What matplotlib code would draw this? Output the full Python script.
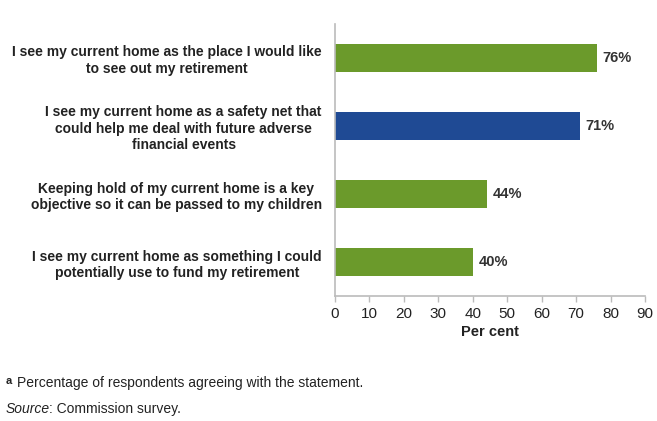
import matplotlib.pyplot as plt
import numpy as np

plt.rcParams['font.family'] = ['Liberation Sans', 'DejaVu Sans']

# data, top to bottom as in the chart
labels = ['I see my current home as the place I would like\nto see out my retirement',
          'I see my current home as a safety net that\ncould help me deal with future adverse\nfinancial events',
          'Keeping hold of my current home is a key\nobjective so it can be passed to my children',
          'I see my current home as something I could\npotentially use to fund my retirement']
values = [76, 71, 44, 40]
colors = ['#6b9a2b', '#1f4a94', '#6b9a2b', '#6b9a2b']
x_ticks = np.arange(0, 100, 10)

fig = plt.figure(figsize=(6.57, 4.21), dpi=100)
ax = fig.add_axes([0.5099, 0.2969, 0.4718, 0.6461])

y_pos = np.arange(len(values))
ax.barh(y_pos, values, height=0.41, color=colors)
ax.set_ylim(len(values) - 0.5, -0.5)
ax.set_xlim(0, 90)

for y, v in zip(y_pos, values):
    ax.text(v + 1.7, y, '%d%%' % v, va='center', ha='left',
            fontsize=10.5, fontweight='bold', color='#333333')

ax.set_yticks(y_pos)
ax.set_yticklabels(labels, fontsize=10, fontweight='bold', color='#222222',
                   multialignment='center', linespacing=1.2)
ax.tick_params(axis='y', length=0, pad=9.5)
ax.set_xticks(x_ticks)
ax.tick_params(axis='x', length=4, width=1, color='#bbbbbb', labelsize=11,
               labelcolor='#222222', pad=4)
ax.set_xlabel('Per cent', fontsize=10.5, fontweight='bold', color='#222222', labelpad=3)

for s in ['top', 'right']:
    ax.spines[s].set_visible(False)
for s in ['left', 'bottom']:
    ax.spines[s].set_color('#bbbbbb')
    ax.spines[s].set_linewidth(1.2)

fig.text(0.008, 0.088, 'a', fontsize=8, fontweight='bold', color='#222222')
fig.text(0.026, 0.08, 'Percentage of respondents agreeing with the statement.',
         fontsize=10, color='#222222')
src = fig.text(0.008, 0.02, 'Source', fontsize=10, style='italic', color='#222222')
fig.canvas.draw()
bb = src.get_window_extent().transformed(fig.transFigure.inverted())
fig.text(bb.x1, 0.02, ': Commission survey.', fontsize=10, color='#222222')

plt.savefig('out.png', dpi=100)
